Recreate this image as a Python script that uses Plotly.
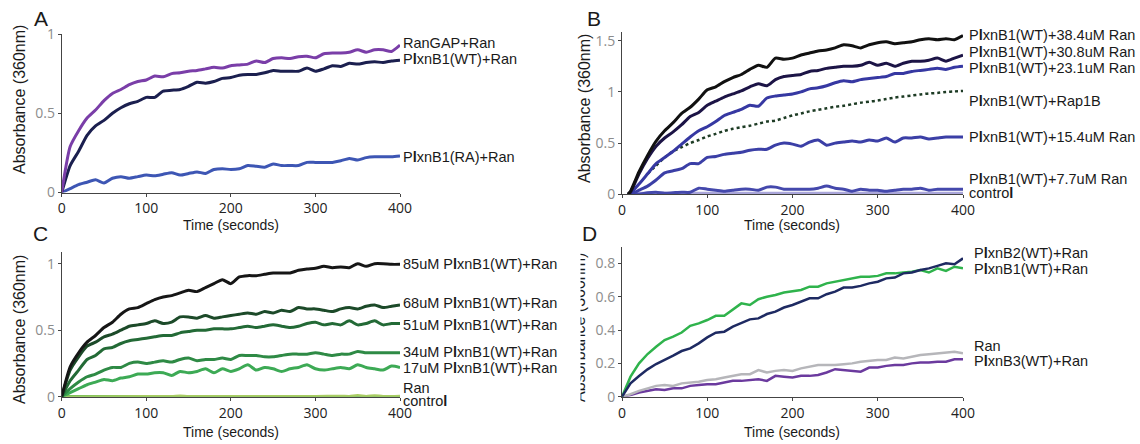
import plotly.graph_objects as go

W, H = 1140, 444

t = [0, 10, 20, 30, 40, 50, 60, 70, 80, 90, 100, 110, 120, 130, 140, 150, 160, 170, 180, 190, 200,
     210, 220, 230, 240, 250, 260, 270, 280, 290, 300, 310, 320, 330, 340, 350, 360, 370, 380, 390, 400]

# panel A
a_rangap = [0, 0.29, 0.39, 0.47, 0.52, 0.58, 0.625, 0.65, 0.68, 0.70, 0.71, 0.735, 0.73, 0.75, 0.755, 0.765, 0.77,
            0.78, 0.79, 0.785, 0.80, 0.805, 0.81, 0.83, 0.82, 0.845, 0.85, 0.845, 0.857, 0.86, 0.85, 0.875, 0.88,
            0.88, 0.885, 0.90, 0.885, 0.90, 0.90, 0.89, 0.93]
a_wt = [0, 0.17, 0.26, 0.36, 0.42, 0.455, 0.50, 0.535, 0.56, 0.575, 0.60, 0.60, 0.64, 0.645, 0.65, 0.67, 0.695, 0.69,
        0.70, 0.72, 0.725, 0.74, 0.745, 0.745, 0.755, 0.77, 0.765, 0.765, 0.765, 0.785, 0.765, 0.78, 0.80, 0.795,
        0.815, 0.81, 0.82, 0.825, 0.82, 0.83, 0.835]
a_ra = [0, 0.025, 0.05, 0.065, 0.08, 0.06, 0.09, 0.10, 0.09, 0.10, 0.11, 0.105, 0.115, 0.125, 0.11, 0.12, 0.13, 0.12,
        0.145, 0.15, 0.145, 0.15, 0.17, 0.165, 0.16, 0.18, 0.17, 0.17, 0.17, 0.19, 0.19, 0.19, 0.19, 0.20, 0.215,
        0.205, 0.22, 0.225, 0.225, 0.225, 0.23]

# panel B
t_b = [7, 10, 20, 30, 40, 50, 60, 70, 80, 90, 100, 110, 120, 130, 140, 150, 160, 170, 180, 190, 200,
       210, 220, 230, 240, 250, 260, 270, 280, 290, 300, 310, 320, 330, 340, 350, 360, 370, 380, 390, 400]
b_384 = [0, 0.03, 0.22, 0.38, 0.52, 0.62, 0.70, 0.79, 0.85, 0.93, 1.02, 1.05, 1.10, 1.14, 1.17, 1.22, 1.26, 1.24,
         1.33, 1.32, 1.33, 1.36, 1.38, 1.40, 1.41, 1.43, 1.46, 1.45, 1.43, 1.46, 1.48, 1.49, 1.47, 1.48, 1.49, 1.51,
         1.52, 1.51, 1.52, 1.51, 1.55]
b_308 = [0, 0.02, 0.2, 0.35, 0.47, 0.55, 0.61, 0.68, 0.76, 0.80, 0.87, 0.91, 0.95, 0.98, 1.01, 1.05, 1.08, 1.06,
         1.12, 1.15, 1.16, 1.17, 1.20, 1.21, 1.23, 1.24, 1.25, 1.25, 1.26, 1.29, 1.26, 1.28, 1.25, 1.28, 1.30, 1.30,
         1.31, 1.33, 1.30, 1.33, 1.36]
b_231 = [0, 0.01, 0.1, 0.2, 0.30, 0.36, 0.42, 0.49, 0.56, 0.62, 0.66, 0.71, 0.77, 0.80, 0.83, 0.87, 0.86, 0.94,
         0.96, 0.97, 0.98, 1.00, 1.03, 1.04, 1.06, 1.09, 1.11, 1.10, 1.12, 1.13, 1.14, 1.15, 1.18, 1.18, 1.20, 1.21,
         1.22, 1.23, 1.22, 1.24, 1.25]
t_rap = [30, 40, 50, 60, 70, 80, 90, 100, 110, 120, 130, 140, 150, 160, 170, 180, 190, 200,
         210, 220, 230, 240, 250, 260, 270, 280, 290, 300, 310, 320, 330, 340, 350, 360, 370, 380, 390, 400]
b_rap = [0.2, 0.28, 0.36, 0.42, 0.46, 0.50, 0.53, 0.565, 0.59, 0.62, 0.64, 0.655, 0.67, 0.69, 0.71, 0.72, 0.745,
         0.77, 0.79, 0.81, 0.825, 0.84, 0.855, 0.865, 0.88, 0.895, 0.905, 0.915, 0.93, 0.945, 0.955, 0.965, 0.975,
         0.985, 0.99, 1.0, 1.005, 1.01]
b_154 = [0, 0, 0.04, 0.08, 0.14, 0.21, 0.23, 0.25, 0.30, 0.30, 0.36, 0.37, 0.39, 0.40, 0.41, 0.43, 0.44, 0.44, 0.48,
         0.50, 0.49, 0.47, 0.51, 0.53, 0.48, 0.50, 0.51, 0.52, 0.51, 0.53, 0.52, 0.55, 0.51, 0.55, 0.55, 0.56, 0.54,
         0.55, 0.56, 0.56, 0.56]
b_77 = [0, 0, 0, 0.015, 0.02, 0.01, 0.015, 0.02, 0.02, 0.06, 0.05, 0.04, 0.03, 0.04, 0.05, 0.05, 0.04, 0.07, 0.07,
        0.05, 0.05, 0.05, 0.05, 0.06, 0.08, 0.06, 0.05, 0.03, 0.05, 0.04, 0.04, 0.03, 0.04, 0.05, 0.05, 0.06, 0.04,
        0.05, 0.05, 0.05, 0.05]
t_bctrl = [7, 400]
b_ctrl = [0.005, 0.005]

# panel C
c_85 = [0, 0.225, 0.33, 0.41, 0.46, 0.52, 0.56, 0.62, 0.66, 0.67, 0.70, 0.73, 0.75, 0.76, 0.78, 0.80, 0.79, 0.82,
        0.85, 0.88, 0.85, 0.90, 0.91, 0.91, 0.92, 0.93, 0.93, 0.93, 0.95, 0.96, 0.965, 0.98, 0.97, 0.975, 0.97, 1.0,
        0.98, 1.0, 1.0, 0.995, 0.995]
c_68 = [0, 0.2, 0.30, 0.38, 0.41, 0.45, 0.47, 0.50, 0.53, 0.54, 0.55, 0.57, 0.55, 0.56, 0.60, 0.60, 0.59, 0.61,
        0.59, 0.60, 0.61, 0.62, 0.63, 0.62, 0.64, 0.63, 0.65, 0.64, 0.67, 0.66, 0.66, 0.65, 0.64, 0.66, 0.67, 0.66,
        0.68, 0.69, 0.67, 0.68, 0.69]
c_51 = [0, 0.12, 0.2, 0.28, 0.31, 0.36, 0.37, 0.40, 0.42, 0.43, 0.44, 0.45, 0.46, 0.46, 0.48, 0.49, 0.50, 0.50,
        0.51, 0.51, 0.51, 0.52, 0.53, 0.52, 0.53, 0.54, 0.53, 0.52, 0.53, 0.55, 0.56, 0.54, 0.55, 0.54, 0.57, 0.54,
        0.55, 0.57, 0.54, 0.55, 0.55]
c_34 = [0, 0.06, 0.11, 0.15, 0.17, 0.20, 0.22, 0.22, 0.25, 0.26, 0.25, 0.26, 0.27, 0.26, 0.28, 0.29, 0.27, 0.28,
        0.28, 0.29, 0.28, 0.31, 0.31, 0.31, 0.30, 0.30, 0.31, 0.32, 0.32, 0.32, 0.33, 0.32, 0.31, 0.32, 0.32, 0.34,
        0.33, 0.33, 0.33, 0.33, 0.33]
c_17 = [0, 0.03, 0.06, 0.09, 0.11, 0.13, 0.12, 0.14, 0.15, 0.17, 0.17, 0.18, 0.18, 0.16, 0.19, 0.18, 0.19, 0.21,
        0.18, 0.21, 0.19, 0.21, 0.24, 0.20, 0.22, 0.21, 0.19, 0.21, 0.22, 0.24, 0.21, 0.20, 0.21, 0.22, 0.21, 0.24,
        0.22, 0.21, 0.20, 0.23, 0.22]
t_cran = [0, 100, 130, 140, 150, 200, 300, 330, 340, 350, 360, 370, 380, 400]
c_ran = [0, 0.003, 0.003, 0.008, 0.003, 0.004, 0.004, 0.006, 0.004, 0.01, 0.004, 0.009, 0.004, 0.006]
t_cctrl = [0, 400]
c_ctrl = [0, 0]

# panel D
d_b2 = [0, 0.08, 0.124, 0.164, 0.196, 0.22, 0.246, 0.274, 0.29, 0.32, 0.356, 0.384, 0.39, 0.42, 0.44, 0.464, 0.47,
        0.496, 0.51, 0.535, 0.55, 0.57, 0.59, 0.59, 0.615, 0.63, 0.655, 0.655, 0.665, 0.68, 0.69, 0.71, 0.715,
        0.74, 0.745, 0.76, 0.77, 0.785, 0.80, 0.795, 0.83]
d_b1 = [0, 0.12, 0.20, 0.256, 0.30, 0.34, 0.36, 0.385, 0.425, 0.44, 0.46, 0.485, 0.485, 0.52, 0.56, 0.55, 0.585,
        0.60, 0.61, 0.625, 0.634, 0.64, 0.66, 0.66, 0.68, 0.69, 0.70, 0.71, 0.72, 0.72, 0.725, 0.74, 0.74, 0.745,
        0.75, 0.76, 0.745, 0.77, 0.755, 0.78, 0.77]
d_ran = [0, 0.015, 0.035, 0.05, 0.065, 0.07, 0.065, 0.08, 0.085, 0.09, 0.10, 0.105, 0.115, 0.125, 0.135, 0.135,
         0.16, 0.145, 0.155, 0.16, 0.155, 0.17, 0.18, 0.19, 0.19, 0.19, 0.195, 0.20, 0.21, 0.215, 0.22, 0.22, 0.235,
         0.23, 0.24, 0.25, 0.255, 0.26, 0.265, 0.27, 0.26]
d_b3 = [0, 0.01, 0.025, 0.035, 0.045, 0.04, 0.05, 0.05, 0.065, 0.07, 0.075, 0.075, 0.085, 0.095, 0.095, 0.10, 0.105,
        0.095, 0.125, 0.12, 0.115, 0.125, 0.125, 0.13, 0.145, 0.165, 0.16, 0.155, 0.15, 0.175, 0.175, 0.185, 0.19,
        0.19, 0.20, 0.205, 0.205, 0.21, 0.21, 0.225, 0.225]

LBL = "Liberation Sans"
TICKF = "Open Sans"

fig = go.Figure()


def line(x, y, ax, color, width=3, dash=None, shape="spline"):
    fig.add_trace(go.Scatter(x=x, y=y, mode="lines", xaxis="x" + ax, yaxis="y" + ax,
                             line=dict(color=color, width=width, dash=dash, shape=shape, smoothing=0.6),
                             showlegend=False, hoverinfo="skip"))


line(t, a_ra, "", "#3d56b4")
line(t, a_wt, "", "#1b1f4f")
line(t, a_rangap, "", "#7a3ea8")

line(t_bctrl, b_ctrl, "2", "#aaa6da", width=4)
line(t_b, b_77, "2", "#4448ac")
line(t_b, b_154, "2", "#3b3fa6")
line(t_rap, b_rap, "2", "#1d3b24", width=2.5, dash="dot")
line(t_b, b_231, "2", "#3638a2")
line(t_b, b_308, "2", "#1c1446")
line(t_b, b_384, "2", "#111111")

line(t_cctrl, c_ctrl, "3", "#47b24d", width=3.5)
line(t_cran, c_ran, "3", "#a9cc62", width=2.5)
line(t, c_17, "3", "#3daa55")
line(t, c_34, "3", "#2e8a45")
line(t, c_51, "3", "#236a36")
line(t, c_68, "3", "#1c4a29")
line(t, c_85, "3", "#161616")

line(t, d_b3, "4", "#6b3a9e", width=2.5, shape="linear")
line(t, d_ran, "4", "#b6b6ba", width=2.5, shape="linear")
line(t, d_b1, "4", "#2fb34c", width=2.5, shape="linear")
line(t, d_b2, "4", "#1e2a62", width=2.5, shape="linear")


def px(x):
    return x / W


def py(y):
    return 1 - y / H


def xax(x0, x1, anchor):
    return dict(domain=[px(x0), px(x1)], range=[0, 400], anchor=anchor, showgrid=False, zeroline=False,
                automargin=False, showline=True, linecolor="#444444", linewidth=1, ticks="outside", ticklen=3,
                tickcolor="#444444", tickvals=[0, 100, 200, 300, 400],
                tickfont=dict(family=TICKF, size=14, color="#222222"))


def yax(y0, y1, top, tickvals, anchor):
    return dict(domain=[py(y0), py(y1)], range=[0, top], anchor=anchor, showgrid=False, zeroline=False,
                automargin=False, showline=True, linecolor="#444444", linewidth=1, ticks="outside", ticklen=3,
                tickcolor="#444444", tickvals=tickvals,
                tickfont=dict(family=TICKF, size=14, color="#8c8c8c"))


fig.update_layout(
    xaxis=xax(61.7, 400, "y"),
    yaxis=yax(192.5, 34, 1.0, [0, 0.5, 1], "x"),
    xaxis2=xax(622, 963, "y2"),
    yaxis2=yax(194.3, 31.5, 1.59, [0, 0.5, 1, 1.5], "x2"),
    xaxis3=xax(61.7, 400, "y3"),
    yaxis3=yax(396.7, 251.7, 1.09, [0, 0.5, 1], "x3"),
    xaxis4=xax(622, 963, "y4"),
    yaxis4=yax(396.7, 246.7, 0.9, [0, 0.2, 0.4, 0.6, 0.8], "x4"),
)

ann = []


def text(x, y, s, size=14.5, anchor="left", angle=0, family=LBL):
    ann.append(dict(x=px(x), y=py(y), xref="paper", yref="paper", text=s, showarrow=False,
                    xanchor=anchor, yanchor="middle", textangle=angle, borderpad=0,
                    font=dict(family=family, size=size, color="#1a1a1a")))


PL = "P<b>l</b>xn"

# curve labels
text(402, 42.7, "RanGAP+Ran")
text(402, 59.3, PL + "B1(WT)+Ran")
text(402, 156.7, PL + "B1(RA)+Ran")

text(968, 35, PL + "B1(WT)+38.4uM Ran")
text(968, 52.3, PL + "B1(WT)+30.8uM Ran")
text(968, 68.3, PL + "B1(WT)+23.1uM Ran")
text(968, 101, PL + "B1(WT)+Rap1B")
text(968, 136.7, PL + "B1(WT)+15.4uM Ran")
text(968, 179.3, PL + "B1(WT)+7.7uM Ran")
text(968, 192.8, "contro<b>l</b>")

text(402, 264.3, "85uM " + PL + "B1(WT)+Ran")
text(402, 303.3, "68uM " + PL + "B1(WT)+Ran")
text(402, 325.3, "51uM " + PL + "B1(WT)+Ran")
text(402, 352, "34uM " + PL + "B1(WT)+Ran")
text(402, 367.5, "17uM " + PL + "B1(WT)+Ran")
text(402, 388, "Ran")
text(402, 400.5, "contro<b>l</b>")

text(973, 253.3, PL + "B2(WT)+Ran")
text(973, 268.8, PL + "B1(WT)+Ran")
text(973, 346, "Ran")
text(973, 361, PL + "B3(WT)+Ran")

# panel letters
for x, y, s in [(41, 18, "A"), (594, 18, "B"), (40, 233, "C"), (589, 233, "D")]:
    text(x, y, s, size=21, anchor="center")

# axis titles
for x, y in [(19, 100), (584, 109), (19, 330), (579, 328)]:
    text(x, y, "Absorbance (360nm)", size=16, anchor="center", angle=-90)
for x, y in [(231, 225), (792, 225), (231, 432), (792, 432)]:
    text(x, y, "Time (seconds)", size=14, anchor="center")

# panel D title is cut off on its left side in the figure
ann.append(dict(x=px(570), y=py(328), xref="paper", yref="paper", text=" ", showarrow=False,
                xanchor="center", yanchor="middle", width=20, height=170, bgcolor="white", borderpad=0))

fig.update_layout(
    width=W, height=H, margin=dict(l=0, r=0, t=0, b=0, autoexpand=False),
    paper_bgcolor="white", plot_bgcolor="white",
    annotations=ann, showlegend=False,
)

# the page's default body margin would push the figure 8px off the window corner
fig.write_html("out.html", config={"displayModeBar": False},
               post_script="document.body.style.margin='0';")
